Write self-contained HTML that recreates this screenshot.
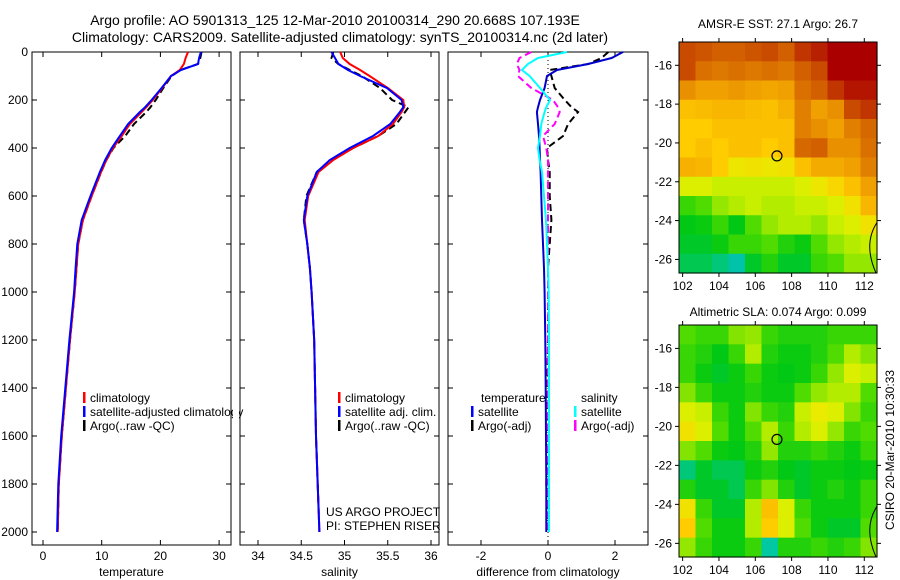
<!DOCTYPE html>
<html><head><meta charset="utf-8"><style>
html,body{margin:0;padding:0;background:#fff}
svg{display:block;font-family:"Liberation Sans",sans-serif}
</style></head><body>
<svg id="fig" width="900" height="580" viewBox="0 0 900 580">
<text x="335" y="25" font-size="14" text-anchor="middle">Argo profile: AO 5901313_125 12-Mar-2010 20100314_290 20.668S 107.193E</text>
<text x="340" y="42" font-size="14" text-anchor="middle">Climatology: CARS2009. Satellite-adjusted climatology: synTS_20100314.nc (2d later)</text>
<text x="778" y="28" font-size="12" text-anchor="middle">AMSR-E SST: 27.1 Argo: 26.7</text>
<text x="778" y="316" font-size="12" text-anchor="middle">Altimetric SLA: 0.074 Argo: 0.099</text>
<text transform="translate(894,450) rotate(-90)" font-size="12" text-anchor="middle">CSIRO 20-Mar-2010 10:30:33</text>
<g id="g"></g>
</svg>
<script>
const depths=[0,25,50,75,100,150,200,230,250,300,350,400,450,500,600,700,800,900,1000,1200,1400,1600,1800,2000];
const climT=[24.7,24.3,24,23.3,21.8,20.3,18.7,17.6,16.8,14.8,13.4,11.9,10.8,9.9,8.3,6.8,6.0,5.7,5.4,4.6,3.9,3.2,2.7,2.5];
const satT=[26.9,26.6,26.4,23.5,21.8,20.2,18.5,17.4,16.5,14.5,13.1,11.7,10.6,9.7,8.1,6.6,5.85,5.55,5.3,4.5,3.8,3.1,2.6,2.4];
const argoT=[27,26.8,26.4,23.4,21.9,20.5,19.2,18.3,17.6,15.5,14.0,12.0,10.8,9.9,8.3,6.8,6.0,5.7,5.4,4.6,3.9,3.2,2.7,2.5];
const climS=[34.95,34.98,35.06,35.18,35.29,35.5,35.68,35.69,35.66,35.56,35.39,35.1,34.87,34.7,34.58,34.54,34.57,34.6,34.62,34.65,34.66,34.67,34.69,34.71];
const satS=[34.85,34.89,34.93,35.04,35.18,35.49,35.66,35.68,35.64,35.53,35.33,35.06,34.83,34.68,34.57,34.53,34.57,34.6,34.62,34.65,34.66,34.67,34.69,34.71];
const argoS=[34.87,34.85,34.93,35.06,35.2,35.41,35.55,35.74,35.7,35.6,35.39,35.1,34.85,34.68,34.56,34.53,34.57,34.6,34.62,34.65,34.66,34.67,34.69,34.71];
const dTsat=[2.24,1.9,1.2,0.27,-0.03,-0.1,-0.24,-0.3,-0.33,-0.3,-0.27,-0.25,-0.24,-0.22,-0.2,-0.18,-0.15,-0.12,-0.1,-0.08,-0.07,-0.06,-0.05,-0.05];
const dTargo=[1.8,1.6,1.2,0.05,0.1,0.2,0.5,0.7,0.9,0.6,0.45,-0.03,0,0.05,0.05,0.1,0.05,0,0,0,-0.02,0,-0.05,0];
const dSsat=[0.57,-0.3,-0.6,-0.78,-0.55,-0.24,0.06,-0.05,-0.1,-0.2,-0.24,-0.3,-0.25,-0.18,-0.12,-0.06,-0.03,0,0.02,0.03,0.03,0.03,0.03,0.03];
const dSargo=[-0.5,-0.85,-0.93,-0.85,-0.9,-0.5,0.15,0.3,0.35,0.2,-0.15,-0.05,0,0,0,0,0,0,0,0,0,0,0,0];
const depthTicks=[0,200,400,600,800,1000,1200,1400,1600,1800,2000];
const tTicks=[0,10,20,30];
const sTicks=[34,34.5,35,35.5,36];
const dTicks=[-2,0,2];
const sst=[
[0.88,0.87,0.86,0.86,0.87,0.88,0.86,0.9,0.92,0.95,0.95,0.95],
[0.88,0.84,0.83,0.84,0.83,0.84,0.83,0.86,0.88,0.95,0.95,0.95],
[0.8,0.78,0.78,0.79,0.78,0.77,0.78,0.84,0.86,0.9,0.93,0.93],
[0.72,0.73,0.74,0.74,0.73,0.72,0.75,0.82,0.78,0.8,0.88,0.9],
[0.7,0.7,0.72,0.72,0.72,0.72,0.72,0.82,0.8,0.78,0.82,0.85],
[0.7,0.72,0.7,0.72,0.72,0.7,0.72,0.85,0.86,0.8,0.8,0.84],
[0.75,0.74,0.7,0.65,0.66,0.65,0.66,0.72,0.76,0.76,0.78,0.82],
[0.62,0.62,0.6,0.6,0.6,0.6,0.6,0.62,0.65,0.68,0.72,0.78],
[0.5,0.52,0.56,0.58,0.6,0.58,0.58,0.6,0.6,0.62,0.66,0.74],
[0.45,0.46,0.5,0.45,0.52,0.56,0.58,0.58,0.56,0.6,0.62,0.66],
[0.44,0.44,0.46,0.5,0.5,0.52,0.48,0.46,0.52,0.56,0.58,0.6],
[0.42,0.42,0.4,0.36,0.44,0.48,0.44,0.44,0.5,0.52,0.56,0.56]];
const sla=[
[0.52,0.5,0.5,0.55,0.56,0.5,0.48,0.48,0.48,0.5,0.5,0.5],
[0.5,0.48,0.45,0.5,0.58,0.48,0.46,0.46,0.48,0.52,0.58,0.55],
[0.5,0.46,0.44,0.46,0.5,0.46,0.45,0.46,0.5,0.56,0.62,0.6],
[0.55,0.5,0.46,0.46,0.48,0.46,0.46,0.52,0.56,0.58,0.58,0.52],
[0.62,0.6,0.5,0.46,0.55,0.5,0.48,0.6,0.64,0.62,0.55,0.5],
[0.66,0.62,0.52,0.46,0.52,0.58,0.5,0.58,0.62,0.56,0.5,0.52],
[0.55,0.52,0.46,0.45,0.48,0.56,0.48,0.48,0.5,0.48,0.46,0.5],
[0.4,0.44,0.42,0.42,0.46,0.48,0.45,0.44,0.46,0.46,0.45,0.46],
[0.48,0.44,0.44,0.42,0.5,0.55,0.48,0.44,0.46,0.48,0.46,0.5],
[0.66,0.5,0.44,0.44,0.58,0.72,0.62,0.5,0.46,0.46,0.46,0.5],
[0.7,0.52,0.46,0.46,0.58,0.7,0.62,0.52,0.46,0.44,0.44,0.52],
[0.56,0.5,0.46,0.46,0.5,0.38,0.48,0.48,0.5,0.48,0.5,0.55]];
const lonTicks=[102,104,106,108,110,112];
const latTicks=[-16,-18,-20,-22,-24,-26];
const floatLon=107.193, floatLat=-20.668;

const NS='http://www.w3.org/2000/svg';
const G=document.getElementById('g');
function mk(tag,attrs,parent){const e=document.createElementNS(NS,tag);for(const k in attrs)e.setAttribute(k,attrs[k]);(parent||G).appendChild(e);return e;}
const yD=d=>52+d*0.24;
const panels=[
 {x0:32,x1:231,xs:v=>43+v*5.87,ticks:tTicks,label:'temperature',name:'temperature-panel'},
 {x0:240,x1:439,xs:v=>258+(v-34)*86.5,ticks:sTicks,label:'salinity',name:'salinity-panel'},
 {x0:448,x1:648,xs:v=>548+v*33.5,ticks:dTicks,label:'difference from climatology',name:'difference-panel'}];
panels.forEach((p,i)=>{
 const gr=mk('g',{});
 
 
 const r=mk('rect',{x:p.x0,y:52,width:p.x1-p.x0,height:493,fill:'none',stroke:'#000','stroke-width':1},gr);
 
 
 depthTicks.forEach(d=>{
  mk('line',{x1:p.x0,x2:p.x0+5,y1:yD(d),y2:yD(d),stroke:'#000'},gr);
  mk('line',{x1:p.x1,x2:p.x1-5,y1:yD(d),y2:yD(d),stroke:'#000'},gr);
  if(i===0){const t=mk('text',{x:28,y:yD(d)+4,'font-size':12,'text-anchor':'end'},gr);t.textContent=d;
   
   }
 });
 p.ticks.forEach(v=>{
  const x=p.xs(v);
  mk('line',{x1:x,x2:x,y1:545,y2:540,stroke:'#000'},gr);
  mk('line',{x1:x,x2:x,y1:52,y2:57,stroke:'#000'},gr);
  const t=mk('text',{x:x,y:560,'font-size':12,'text-anchor':'middle'},gr);t.textContent=v;
  
  
 });
 const xl=mk('text',{x:(p.x0+p.x1)/2,y:576,'font-size':12,'text-anchor':'middle'},gr);xl.textContent=p.label;
 
 
});
function line(vals,xs,color,dash,name){
 const pts=vals.map((v,k)=>xs(v).toFixed(1)+','+yD(depths[k]).toFixed(1)).join(' ');
 const e=mk('polyline',{points:pts,fill:'none',stroke:color,'stroke-width':2});
 if(dash)e.setAttribute('stroke-dasharray',dash);
 
 
}
mk('line',{x1:548,x2:548,y1:52,y2:545,stroke:'#000','stroke-dasharray':'1,3'});
line(argoT,panels[0].xs,'#000','7,4','argo-temperature-line');
line(climT,panels[0].xs,'#f00',null,'climatology-temperature-line');
line(satT,panels[0].xs,'#00f',null,'satellite-temperature-line');
line(argoS,panels[1].xs,'#000','7,4','argo-salinity-line');
line(climS,panels[1].xs,'#f00',null,'climatology-salinity-line');
line(satS,panels[1].xs,'#00f',null,'satellite-salinity-line');
line(dTargo,panels[2].xs,'#000','7,4','argo-temperature-diff-line');
line(dSargo,panels[2].xs,'#f0f','7,4','argo-salinity-diff-line');
line(dTsat,panels[2].xs,'#00c',null,'satellite-temperature-diff-line');
line(dSsat,panels[2].xs,'#0ff',null,'satellite-salinity-diff-line');
function leg(x,y,color,txt,name){
 const g=mk('g',{});
 
 
 if(color)mk('rect',{x:x,y:y-10,width:2.5,height:11,fill:color},g);
 const t=mk('text',{x:x+7,y:y,'font-size':12},g);t.textContent=txt;
}
leg(83,402,'#f00','climatology','legend-climatology');
leg(83,416,'#00f','satellite-adjusted climatology','legend-satellite-adjusted');
leg(83,430,'#000','Argo(..raw -QC)','legend-argo');
mk('rect',{x:233,y:380,width:6,height:60,fill:'#fff'});
leg(338,402,'#f00','climatology','legend-climatology-2');
leg(338,416,'#00f','satellite adj. clim.','legend-satellite-adj-2');
leg(338,430,'#000','Argo(..raw -QC)','legend-argo-2');
leg(474,402,null,'temperature','legend-temperature-header');
leg(574,402,null,'salinity','legend-salinity-header');
leg(471,416,'#00f','satellite','legend-temp-satellite');
leg(471,430,'#000','Argo(-adj)','legend-temp-argo');
leg(574,416,'#0ff','satellite','legend-sal-satellite');
leg(574,430,'#f0f','Argo(-adj)','legend-sal-argo');
const pi1=mk('text',{x:326,y:516,'font-size':12});pi1.textContent='US ARGO PROJECT';


const pi2=mk('text',{x:326,y:530,'font-size':12});pi2.textContent='PI: STEPHEN RISER';



const stops=[[0.3,[0,180,200]],[0.38,[0,200,160]],[0.45,[0,200,20]],[0.52,[80,220,0]],[0.58,[180,236,0]],[0.63,[230,240,0]],[0.7,[255,204,0]],[0.78,[240,160,0]],[0.86,[210,96,0]],[0.95,[170,0,0]]];
function cmap(v){
 if(v<=stops[0][0])return 'rgb('+stops[0][1]+')';
 for(let i=1;i<stops.length;i++){if(v<=stops[i][0]){const a=stops[i-1],b=stops[i],t=(v-a[0])/(b[0]-a[0]);
  return 'rgb('+a[1].map((c,k)=>Math.round(c+(b[1][k]-c)*t)).join(',')+')';}}
 return 'rgb('+stops[stops.length-1][1]+')';
}
function map(grid,top,bottom,name){
 const x0=679,x1=877,lon0=101.8,lon1=112.7,lat0=-14.8,lat1=-26.7;
 const lx=l=>x0+(l-lon0)/(lon1-lon0)*(x1-x0);
 const ly=l=>top+(l-lat0)/(lat1-lat0)*(bottom-top);
 const g=mk('g',{});
 
 
 const nr=grid.length,nc=grid[0].length,cw=(x1-x0)/nc,ch=(bottom-top)/nr;
 grid.forEach((row,r)=>row.forEach((v,c)=>{
  const cell=mk('rect',{x:x0+c*cw,y:top+r*ch,width:cw+0.6,height:ch+0.6,fill:cmap(v)},g);
  
  
 }));
 mk('path',{d:`M${x1},${ly(-24.1)} Q${x1-14},${ly(-25.2)} ${x1-1},${ly(-26.7)}`,fill:'none',stroke:'#000','stroke-width':1},g);
 mk('rect',{x:x0,y:top,width:x1-x0,height:bottom-top,fill:'none',stroke:'#000'},g);
 lonTicks.forEach(l=>{const x=lx(l);mk('line',{x1:x,x2:x,y1:top,y2:top-4,stroke:'#000'},g);mk('line',{x1:x,x2:x,y1:bottom,y2:bottom+4,stroke:'#000'},g);
  const t=mk('text',{x:x,y:bottom+17,'font-size':12,'text-anchor':'middle'},g);t.textContent=l;
  
  });
 latTicks.forEach(l=>{const y=ly(l);mk('line',{x1:x0,x2:x0-4,y1:y,y2:y,stroke:'#000'},g);mk('line',{x1:x1,x2:x1+4,y1:y,y2:y,stroke:'#000'},g);
  const t=mk('text',{x:x0-7,y:y+4,'font-size':12,'text-anchor':'end'},g);t.textContent=l;
  
  });
 const c=mk('circle',{cx:lx(floatLon),cy:ly(floatLat),r:5,fill:'none',stroke:'#000','stroke-width':1.2},g);
 
 
}
map(sst,42,273,'sst-map');
map(sla,325,557,'sla-map');
</script>
</body></html>
